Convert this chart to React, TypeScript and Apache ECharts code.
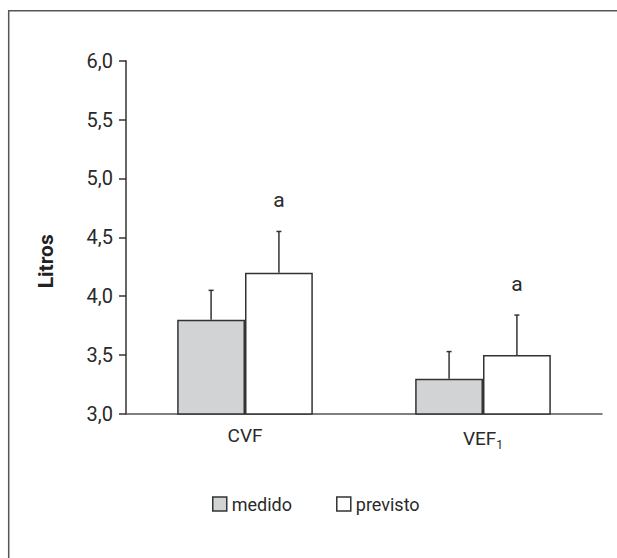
import React, { useEffect, useRef } from "react";
import * as echarts from "echarts";

const categories = ["CVF", "VEF1"];
const seriesNames = ["medido", "previsto"];
const medido = [3.8, 3.3];
const previsto = [4.2, 3.5];
const medidoErr = [4.05, 3.53];
const previstoErr = [4.55, 3.84];
const sigLabels = ["", ""];
const sigLabelsPrevisto = ["a", "a"];
const yTicks = { min: 3, max: 6, interval: 0.5 };

const FONT = "Roboto, 'Liberation Sans', sans-serif";
const GAP = 0.43;

function errorSeries(name: string, vals: number[], highs: number[], side: number, labels: string[]) {
  return {
    type: "custom",
    name: name + "-err",
    z: 5,
    silent: true,
    encode: { x: 0, y: [1, 2] },
    data: vals.map((v, i) => [i, v, highs[i]]),
    renderItem: (params: any, api: any) => {
      const idx = api.value(0);
      const low = api.coord([idx, api.value(1)]);
      const high = api.coord([idx, api.value(2)]);
      const band = api.size([1, 0])[0];
      const bw = (band * (1 - GAP)) / 2;
      const x = low[0] + (side * bw) / 2;
      const children: any[] = [
        {
          type: "line",
          shape: { x1: x, y1: low[1], x2: x, y2: high[1] },
          style: { stroke: "#333", lineWidth: 1.5 },
        },
        {
          type: "line",
          shape: { x1: x - 2.5, y1: high[1], x2: x + 2.5, y2: high[1] },
          style: { stroke: "#333", lineWidth: 1.5 },
        },
      ];
      const lab = labels[params.dataIndex];
      if (lab) {
        children.push({
          type: "text",
          style: {
            text: lab,
            x: x,
            y: high[1] - 31,
            align: "center",
            verticalAlign: "middle",
            fontSize: 21,
            fontFamily: FONT,
            fill: "#2a2a2a",
          },
        });
      }
      return { type: "group", children };
    },
  };
}

export default function App() {
  const ref = useRef<HTMLDivElement>(null);
  useEffect(() => {
    if (!ref.current) return;
    const chart = echarts.init(ref.current, undefined, { renderer: "svg" });
    chart.setOption({
      animation: false,
      backgroundColor: "#fff",
      textStyle: { fontFamily: FONT },
      graphic: [
        {
          type: "rect",
          shape: { x: 8.7, y: 10.7, width: 800, height: 800 },
          style: { fill: "none", stroke: "#555", lineWidth: 1.5 },
          silent: true,
        },
      ],
      grid: { left: 126, right: 15, top: 60.7, bottom: 144, containLabel: false },
      legend: {
        left: 207,
        top: 490,
        icon: "rect",
        itemWidth: 14,
        itemHeight: 14,
        itemGap: 44,
        textStyle: { fontSize: 18, color: "#2a2a2a", fontFamily: FONT },
        data: [
          { name: seriesNames[0], itemStyle: { color: "#d1d3d4", borderColor: "#333", borderWidth: 1.5 } },
          { name: seriesNames[1], itemStyle: { color: "#fff", borderColor: "#333", borderWidth: 1.5 } },
        ],
      },
      xAxis: {
        type: "category",
        data: categories,
        axisLine: { lineStyle: { color: "#555", width: 1.5 } },
        axisTick: { show: false },
        axisLabel: {
          margin: 12,
          formatter: (v: string) => (v === "VEF1" ? "{n|VEF}{s|1}" : "{n|" + v + "}"),
          rich: {
            n: { fontSize: 19, color: "#2a2a2a", fontFamily: FONT },
            s: { fontSize: 12, color: "#2a2a2a", fontFamily: FONT, padding: [13, 0, 0, 0] },
          },
        },
      },
      yAxis: {
        type: "value",
        min: yTicks.min,
        max: yTicks.max,
        interval: yTicks.interval,
        name: "Litros",
        nameLocation: "middle",
        nameRotate: 90,
        nameGap: 70,
        nameTextStyle: {
          fontSize: 21,
          fontWeight: "bold",
          color: "#222",
          fontFamily: FONT,
          padding: [0, 48, 0, 0],
        },
        axisLine: { show: true, lineStyle: { color: "#333", width: 1.5 } },
        axisTick: { show: true, length: 7, lineStyle: { color: "#333", width: 1.5 } },
        splitLine: { show: false },
        axisLabel: {
          margin: 13,
          fontSize: 20,
          color: "#2a2a2a",
          fontFamily: FONT,
          formatter: (v: number) => v.toFixed(1).replace(".", ","),
        },
      },
      series: [
        {
          type: "bar",
          name: seriesNames[0],
          data: medido,
          barGap: "0%",
          barCategoryGap: GAP * 100 + "%",
          itemStyle: { color: "#d1d3d4", borderColor: "#333", borderWidth: 1.5 },
        },
        {
          type: "bar",
          name: seriesNames[1],
          data: previsto,
          barGap: "0%",
          barCategoryGap: GAP * 100 + "%",
          itemStyle: { color: "#fff", borderColor: "#333", borderWidth: 1.5 },
        },
        errorSeries(seriesNames[0], medido, medidoErr, -1, sigLabels),
        errorSeries(seriesNames[1], previsto, previstoErr, 1, sigLabelsPrevisto),
      ],
    });
    return () => chart.dispose();
  }, []);
  return (
    <div
      ref={ref}
      style={{ position: "fixed", left: 0, top: 0, width: 617, height: 558 }}
    />
  );
}
